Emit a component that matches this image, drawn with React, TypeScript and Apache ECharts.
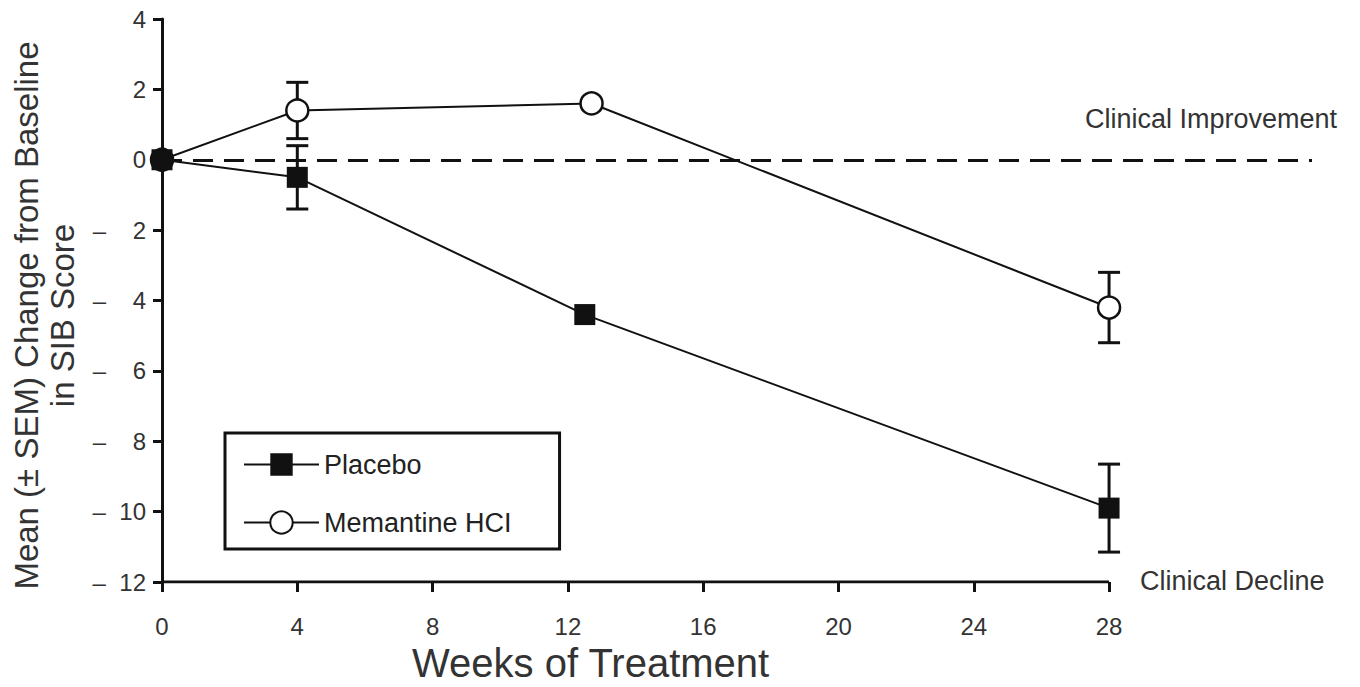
import React, { useEffect, useRef } from "react";
import * as echarts from "echarts";

// ---- data ----
const placeboWeeks = [0, 4, 12.5, 28];
const placeboMean = [0, -0.5, -4.4, -9.9];
const memantineWeeks = [0, 4, 12.7, 28];
const memantineMean = [0, 1.4, 1.6, -4.2];

const errorWeeks = [4, 28];
const placeboErrMean = [-0.5, -9.9];
const placeboSem = [0.9, 1.25];
const memantineErrMean = [1.4, -4.2];
const memantineSem = [0.8, 1.0];

const xTickValues = [0, 4, 8, 12, 16, 20, 24, 28];
const xMin = 0;
const xMax = 34;
const yMin = -12;
const yMax = 4;
const yStep = 2;

const seriesNames = ["Placebo", "Memantine HCI"];
const yAxisTitle = "Mean (± SEM) Change from Baseline\nin SIB Score";
const xAxisTitle = "Weeks of Treatment";
const improvementLabel = "Clinical Improvement";
const declineLabel = "Clinical Decline";

const FONT = '"Liberation Sans", Arial, Helvetica, sans-serif';
const INK = "#111";
const TEXT = "#333";

function formatY(v: number): string {
  if (v >= 0) return String(v);
  const a = Math.abs(v);
  return a < 10
    ? "\u2013\u00A0\u00A0\u00A0\u00A0" + a
    : "\u2013\u00A0\u00A0" + a;
}

export default function App() {
  const ref = useRef<HTMLDivElement>(null);

  useEffect(() => {
    if (!ref.current) return;
    const chart = echarts.init(ref.current, null, { renderer: "svg" });

    const placeboData = placeboWeeks.map((w, i) => [w, placeboMean[i]]);
    const memantineData = memantineWeeks.map((w, i) => [w, memantineMean[i]]);
    const errData = [
      ...errorWeeks.map((w, i) => [w, placeboErrMean[i] - placeboSem[i], placeboErrMean[i] + placeboSem[i]]),
      ...errorWeeks.map((w, i) => [w, memantineErrMean[i] - memantineSem[i], memantineErrMean[i] + memantineSem[i]]),
    ];

    const option: any = {
      animation: false,
      backgroundColor: "#fff",
      textStyle: { fontFamily: FONT },
      grid: { left: 158, top: 19, bottom: 105, right: 48, containLabel: false },
      legend: {
        data: seriesNames,
        orient: "vertical",
        left: 225,
        top: 433,
        itemWidth: 75,
        itemHeight: 28,
        itemGap: 31,
        padding: [18, 48, 13, 18],
        borderColor: INK,
        borderWidth: 3,
        selectedMode: false,
        textStyle: { fontSize: 27, color: "#222", fontFamily: FONT },
      },
      xAxis: {
        type: "value",
        min: xMin,
        max: xMax,
        interval: 4,
        axisLine: { show: false, onZero: false },
        splitLine: { show: false },
        axisTick: {
          show: true,
          customValues: xTickValues,
          length: 10,
          lineStyle: { width: 3, color: INK },
        },
        axisLabel: {
          customValues: xTickValues,
          fontSize: 24,
          color: TEXT,
          margin: 32,
          fontFamily: FONT,
        },
      },
      yAxis: {
        type: "value",
        min: yMin,
        max: yMax,
        interval: yStep,
        name: yAxisTitle,
        nameLocation: "middle",
        nameRotate: 90,
        nameGap: 82,
        nameTextStyle: {
          fontSize: 33,
          lineHeight: 36,
          color: TEXT,
          fontFamily: FONT,
          padding: [0, 30, 0, 0],
        },
        axisLine: { show: true, onZero: false, lineStyle: { width: 3, color: INK } },
        axisTick: { show: true, length: 9, lineStyle: { width: 3, color: INK } },
        splitLine: { show: false },
        axisLabel: {
          fontSize: 24,
          color: TEXT,
          margin: 16,
          fontFamily: FONT,
          formatter: formatY,
        },
      },
      graphic: [
        {
          type: "text",
          left: 412,
          top: 643,
          style: { text: xAxisTitle, font: `40px ${FONT}`, fill: TEXT },
        },
        {
          type: "text",
          left: 1085,
          top: 105,
          style: { text: improvementLabel, font: `27px ${FONT}`, fill: TEXT },
        },
        {
          type: "text",
          left: 1140,
          top: 567,
          style: { text: declineLabel, font: `27px ${FONT}`, fill: TEXT },
        },
      ],
      series: [
        {
          name: "xAxisLine",
          type: "line",
          data: [
            [xMin, yMin],
            [xTickValues[xTickValues.length - 1], yMin],
          ],
          symbol: "none",
          silent: true,
          lineStyle: { color: INK, width: 3 },
          z: 1,
        },
        {
          name: "errors",
          type: "custom",
          data: errData,
          silent: true,
          z: 2,
          renderItem: (params: any, api: any) => {
            const x = api.value(0);
            const lo = api.value(1);
            const hi = api.value(2);
            const top = api.coord([x, hi]);
            const bot = api.coord([x, lo]);
            const w = 11;
            const st = { stroke: INK, lineWidth: 3 };
            return {
              type: "group",
              children: [
                { type: "line", shape: { x1: top[0], y1: top[1], x2: bot[0], y2: bot[1] }, style: st },
                { type: "line", shape: { x1: top[0] - w, y1: top[1], x2: top[0] + w, y2: top[1] }, style: st },
                { type: "line", shape: { x1: bot[0] - w, y1: bot[1], x2: bot[0] + w, y2: bot[1] }, style: st },
              ],
            };
          },
        },
        {
          name: seriesNames[1],
          type: "line",
          data: memantineData,
          symbol: "circle",
          symbolSize: 22,
          z: 3,
          lineStyle: { color: INK, width: 2 },
          itemStyle: { color: "#fff", borderColor: INK, borderWidth: 2.5 },
          markLine: {
            silent: true,
            symbol: "none",
            label: { show: false },
            lineStyle: { color: INK, width: 3, type: [20, 11] },
            data: [{ yAxis: 0 }],
          },
        },
        {
          name: seriesNames[0],
          type: "line",
          data: placeboData,
          symbol: "rect",
          symbolSize: 21,
          z: 4,
          lineStyle: { color: INK, width: 2 },
          itemStyle: { color: INK },
        },
      ],
    };

    chart.setOption(option);
    return () => chart.dispose();
  }, []);

  return (
    <div
      ref={ref}
      style={{ position: "absolute", left: 0, top: 0, width: 1360, height: 687 }}
    />
  );
}
